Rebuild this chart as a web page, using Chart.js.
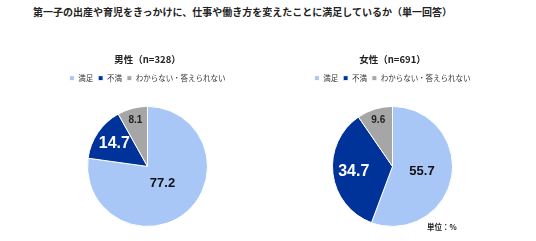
<!DOCTYPE html>
<html>
<head>
<meta charset="utf-8">
<script src="https://cdn.jsdelivr.net/npm/chart.js@4"></script>
<style>
  body { margin: 0; width: 536px; height: 241px; background: #fff; position: relative; overflow: hidden;
         font-family: "Noto Sans CJK JP", sans-serif; }
  #title { position: absolute; left: 33px; top: 4px; font-size: 10px; font-weight: bold; color: #222; white-space: nowrap; }
  #unit { position: absolute; left: 427px; top: 221px; font-size: 7.5px; font-weight: bold; color: #222; }
  .box { position: absolute; top: 40px; width: 215px; height: 201px; }
</style>
</head>
<body>
<div id="title">第一子の出産や育児をきっかけに、仕事や働き方を変えたことに満足しているか（単一回答）</div>
<div class="box" style="left:40px"><canvas id="male"></canvas></div>
<div class="box" style="left:285px"><canvas id="female"></canvas></div>
<div id="unit">単位：%</div>
<script>
// answer categories (legend order)
const categories = ['満足', '不満', 'わからない・答えられない'];
const colors = ['#a8c7f7', '#003399', '#a6a6a6'];

// share of respondents, %
const maleValues = [77.2, 14.7, 8.1];
const femaleValues = [55.7, 34.7, 9.6];

const maleTitle = '男性（n=328）';
const femaleTitle = '女性（n=691）';

// label look per slice
const labelColors = ['#111', '#fff', '#222'];
const labelSizes = [13, 16, 10];

const sliceLabels = {
  id: 'sliceLabels',
  afterDatasetsDraw(chart, args, opts) {
    const ctx = chart.ctx;
    const meta = chart.getDatasetMeta(0);
    const values = chart.data.datasets[0].data;
    meta.data.forEach((arc, i) => {
      const p = arc.getProps(['x', 'y', 'startAngle', 'endAngle', 'outerRadius'], true);
      const mid = (p.startAngle + p.endAngle) / 2;
      const r = p.outerRadius * opts.dist[i];
      ctx.save();
      ctx.font = 'bold ' + labelSizes[i] + 'px "Liberation Sans", Arial, sans-serif';
      ctx.fillStyle = labelColors[i];
      ctx.textAlign = 'center';
      ctx.textBaseline = 'middle';
      ctx.fillText(values[i].toFixed(1), p.x + Math.cos(mid) * r, p.y + Math.sin(mid) * r);
      ctx.restore();
    });
  }
};

function makePie(id, title, values, dist) {
  new Chart(document.getElementById(id), {
    type: 'pie',
    data: {
      labels: categories,
      datasets: [{
        data: values,
        backgroundColor: colors,
        borderColor: '#fff',
        borderWidth: 1,
        radius: 60
      }]
    },
    options: {
      responsive: true,
      maintainAspectRatio: false,
      animation: false,
      layout: { padding: 0 },
      plugins: {
        title: {
          display: true,
          text: title,
          color: '#222',
          font: { family: '"Noto Sans CJK JP"', size: 9.5, weight: 'bold' },
          padding: { top: 14, bottom: 4 }
        },
        legend: {
          position: 'top',
          labels: {
            boxWidth: 5,
            boxHeight: 5,
            padding: 5,
            color: '#333',
            font: { family: '"Noto Sans CJK JP"', size: 7.5 }
          }
        },
        tooltip: { enabled: false },
        sliceLabels: { dist: dist }
      }
    },
    plugins: [sliceLabels]
  });
}

makePie('male', maleTitle, maleValues, [0.38, 0.67, 0.8]);
makePie('female', femaleTitle, femaleValues, [0.5, 0.65, 0.8]);
</script>
</body>
</html>
